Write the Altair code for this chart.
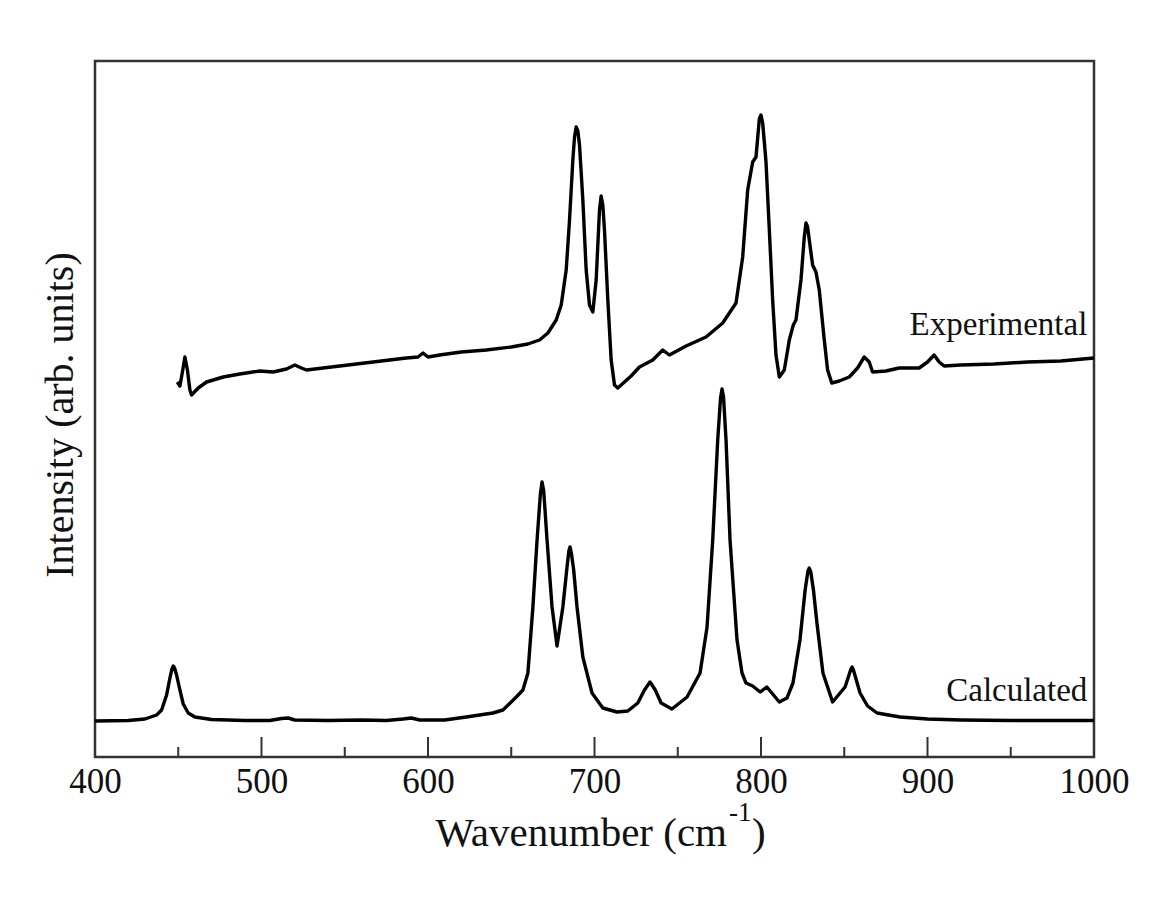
import altair as alt
import pandas as pd

# ---- data (wavenumber in cm-1, intensity in arb. units) ----
exp_x = [449.4, 451, 452.5, 454, 455.5, 457, 458, 462, 467, 477, 487, 499, 507, 515, 520, 524, 527,
         547, 567, 587, 594, 597, 600, 607, 620, 635, 650, 660, 667, 672, 677, 680, 683, 685, 687,
         688, 689, 690, 691, 693, 695, 697, 699, 701, 703, 704, 705, 706, 708, 710, 712, 714, 718, 722, 727, 735,
         741, 745, 755, 767, 777, 785, 789, 792, 795, 797, 799, 800, 801, 802, 803, 805, 807, 809, 811, 814,
         817, 819.4, 821, 824, 826, 827, 828, 829, 831, 833, 835, 838, 840, 842.5, 847, 853, 858, 862, 865,
         867, 875, 883, 895, 900, 904, 907, 910, 920, 940, 960, 980, 1000]
exp_y = [37.5, 37.1, 38.5, 40.0, 38.7, 36.7, 36.2, 36.9, 37.5, 38.0, 38.3, 38.6, 38.5, 38.8, 39.2, 38.9, 38.7,
         39.1, 39.5, 39.9, 40.0, 40.4, 40.0, 40.2, 40.5, 40.7, 41.0, 41.3, 41.7, 42.4, 43.7, 45.2, 48.7, 53.7, 59.7,
         62.0, 63.0, 62.6, 61.2, 55.7, 48.7, 45.2, 44.5, 47.7, 54.7, 56.1, 55.2, 52.7, 45.7, 39.7, 37.2, 36.9, 37.5, 38.1, 39.0, 39.7,
         40.7, 40.2, 41.1, 42.0, 43.4, 45.4, 50.0, 56.7, 59.5, 60.0, 63.8, 64.2, 63.4, 61.5, 59.5, 52.7, 45.7, 40.2, 38.0, 38.7,
         41.7, 43.2, 43.7, 47.7, 52.0, 53.4, 53.0, 51.7, 49.2, 48.5, 46.7, 41.7, 38.7, 37.4, 37.6, 38.0, 38.9, 40.0, 39.5,
         38.5, 38.6, 38.9, 38.9, 39.5, 40.2, 39.5, 39.1, 39.2, 39.3, 39.5, 39.6, 39.9]

calc_x = [400, 420, 430, 437, 440, 443, 445, 446.2, 447, 447.8, 449, 451, 453, 456, 460, 470, 490, 505, 512, 516, 520,
          540, 560, 575, 585, 590, 595, 610, 623, 639, 645, 653, 657, 660, 663, 665.5, 667.5, 668.5, 669.5, 671.5,
          674.5, 677.5, 681, 683.5, 684.6, 685.3, 686.1, 687.5, 689.5, 693, 698.5, 705, 713.5, 720, 726, 730, 732.5,
          733.3, 734.2, 736.5, 740, 746.5, 755.6, 763.4, 767.6, 771, 774, 775.7, 776.6, 777.5, 779, 781.4, 785.6,
          788.6, 791, 795, 799.5, 803.5, 807, 811, 815.6, 819.2, 823.4, 826.5, 828.2, 829, 829.9, 831.5, 833.6,
          837.2, 843, 850.5, 854, 854.7, 855.5, 859.5, 864, 869.7, 883.5, 900, 920, 950, 1000]
calc_y = [3.6, 3.65, 3.8, 4.2, 4.7, 6.2, 7.9, 8.8, 9.1, 8.9, 8.2, 6.7, 5.3, 4.4, 4.0, 3.75, 3.65, 3.65, 3.85, 3.9, 3.7,
          3.65, 3.7, 3.65, 3.8, 3.9, 3.7, 3.7, 4.0, 4.4, 4.7, 6.0, 6.7, 8.4, 15.0, 21.7, 26.3, 27.5, 26.6, 21.7,
          15.0, 11.1, 15.0, 19.0, 20.6, 21.0, 20.4, 18.7, 15.0, 10.0, 6.4, 4.9, 4.5, 4.6, 5.4, 6.7, 7.3,
          7.5, 7.3, 6.7, 5.4, 4.8, 6.0, 8.4, 13.0, 21.7, 31.7, 35.9, 36.8, 36.0, 31.7, 21.7, 11.7,
          8.4, 7.4, 7.1, 6.5, 7.0, 6.3, 5.5, 5.9, 7.4, 11.7, 16.7, 18.6, 18.9, 18.5, 16.7, 13.4,
          8.4, 5.5, 7.0, 8.8, 9.0, 8.7, 6.4, 5.1, 4.4, 4.0, 3.8, 3.7, 3.65, 3.65]

tick_labels = [400, 500, 600, 700, 800, 900, 1000]
major_ticks = [500, 600, 700, 800, 900]
minor_ticks = [450, 550, 650, 750, 850, 950]

series_names = ["Experimental", "Calculated"]
label_x = [996, 996]
label_y = [43.2, 6.6]

W, H = 999, 696
SERIF = "Liberation Serif"

df = pd.concat([
    pd.DataFrame({"x": exp_x, "y": exp_y, "series": "Experimental"}),
    pd.DataFrame({"x": calc_x, "y": calc_y, "series": "Calculated"}),
], ignore_index=True)

xs = alt.Scale(domain=[400, 1000], nice=False)
ys = alt.Scale(domain=[0, 69.6], nice=False, zero=False)

lines = alt.Chart(df).mark_line(color="black", strokeWidth=3.4, strokeJoin="round").encode(
    x=alt.X("x:Q", scale=xs,
            axis=alt.Axis(values=tick_labels, format="d", title=None, domain=False, ticks=False,
                          grid=False, labelFont=SERIF, labelFontSize=35, labelColor="#111",
                          labelPadding=7, labelFlush=False)),
    y=alt.Y("y:Q", scale=ys, axis=None),
    detail="series:N",
    order="x:Q",
)

major = alt.Chart(pd.DataFrame({"t": major_ticks})).mark_rule(color="#333", strokeWidth=2).encode(
    x=alt.X("t:Q", scale=xs), y=alt.value(H), y2=alt.value(H - 20))
minor = alt.Chart(pd.DataFrame({"t": minor_ticks})).mark_rule(color="#333", strokeWidth=2).encode(
    x=alt.X("t:Q", scale=xs), y=alt.value(H), y2=alt.value(H - 10))

labels = alt.Chart(pd.DataFrame({"name": series_names, "x": label_x, "y": label_y})).mark_text(
    font=SERIF, fontSize=33, align="right", baseline="middle", color="#111").encode(
    x=alt.X("x:Q", scale=xs), y=alt.Y("y:Q", scale=ys), text="name:N")

xt_main = alt.Chart(pd.DataFrame({"t": ["Wavenumber (cm"]})).mark_text(
    font=SERIF, fontSize=41, align="right", baseline="alphabetic", color="#111").encode(
    x=alt.value(632), y=alt.value(785), text="t:N")
xt_sup = alt.Chart(pd.DataFrame({"t": ["-1"]})).mark_text(
    font=SERIF, fontSize=27, align="left", baseline="alphabetic", color="#111").encode(
    x=alt.value(634), y=alt.value(760), text="t:N")
xt_close = alt.Chart(pd.DataFrame({"t": [")"]})).mark_text(
    font=SERIF, fontSize=41, align="left", baseline="alphabetic", color="#111").encode(
    x=alt.value(657), y=alt.value(785), text="t:N")
yt = alt.Chart(pd.DataFrame({"t": ["Intensity (arb. units)"]})).mark_text(
    font=SERIF, fontSize=40, align="center", baseline="middle", angle=270, color="#111").encode(
    x=alt.value(-34), y=alt.value(354), text="t:N")

chart = alt.layer(lines, major, minor, labels, xt_main, xt_sup, xt_close, yt).properties(
    width=W, height=H,
    autosize=alt.AutoSizeParams(type="none"),
    padding={"left": 87, "top": 53, "right": 54, "bottom": 136},
    background="white",
).configure_view(stroke="#333", strokeWidth=2.5)

chart.save("out.html", embed_options={"renderer": "svg", "actions": False})
